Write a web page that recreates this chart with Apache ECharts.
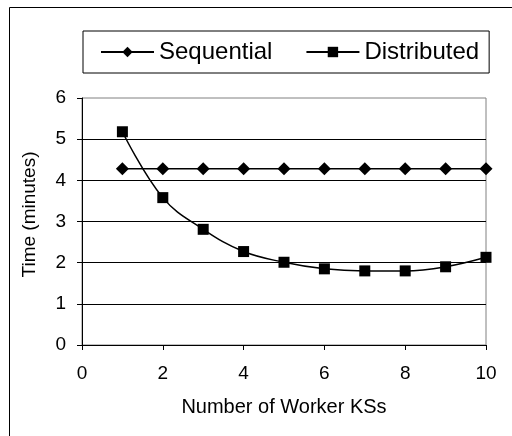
<!DOCTYPE html>
<html>
<head>
<meta charset="utf-8">
<script src="https://cdn.jsdelivr.net/npm/echarts@6/dist/echarts.min.js"></script>
<style>html,body{margin:0;padding:0;background:#fff}#c{width:512px;height:436px}</style>
</head>
<body>
<div id="c"></div>
<script>
var workers = [1, 2, 3, 4, 5, 6, 7, 8, 9, 10];
var sequential = [4.28, 4.28, 4.28, 4.28, 4.28, 4.28, 4.28, 4.28, 4.28, 4.28];
var distributed = [5.18, 3.58, 2.81, 2.27, 2.01, 1.85, 1.80, 1.80, 1.90, 2.13];
var seriesNames = ['Sequential', 'Distributed'];

function pairs(xs, ys) { return xs.map(function (x, i) { return [x, ys[i]]; }); }

var font = '"Liberation Sans", Arial, sans-serif';
var chart = echarts.init(document.getElementById('c'), null, { renderer: 'canvas' });
chart.setOption({
  animation: false,
  backgroundColor: '#fff',
  textStyle: { fontFamily: font, color: '#000' },
  graphic: [{
    type: 'rect', silent: true, z: -10,
    shape: { x: 9.5, y: 7.5, width: 560, height: 480 },
    style: { fill: null, stroke: '#000', lineWidth: 1 }
  }],
  legend: {
    left: 83, top: 31,
    padding: [9, 10, 9, 17],
    borderColor: '#000', borderWidth: 1,
    itemWidth: 53, itemHeight: 13, itemGap: 33,
    textStyle: { fontFamily: font, fontSize: 24, color: '#000' },
    data: seriesNames
  },
  grid: {
    left: 82, right: 26, top: 98, bottom: 91,
    show: true, borderColor: '#808080', borderWidth: 1, backgroundColor: 'transparent'
  },
  xAxis: {
    type: 'value', min: 0, max: 10, interval: 2,
    name: 'Number of Worker KSs', nameLocation: 'middle', nameGap: 52,
    nameTextStyle: { fontFamily: font, fontSize: 20, color: '#000' },
    axisLine: { lineStyle: { color: '#000', width: 1 } },
    axisTick: { show: true, length: 5, lineStyle: { color: '#000' } },
    axisLabel: { fontFamily: font, fontSize: 19, color: '#000', margin: 19 },
    splitLine: { show: false }
  },
  yAxis: {
    type: 'value', min: 0, max: 6, interval: 1,
    name: 'Time (minutes)', nameLocation: 'middle', nameGap: 43,
    nameTextStyle: { fontFamily: font, fontSize: 19, color: '#000', padding: [0, 0, 0, 14] },
    axisLine: { show: true, lineStyle: { color: '#000', width: 1 } },
    axisTick: { show: true, length: 5, lineStyle: { color: '#000' } },
    axisLabel: { fontFamily: font, fontSize: 19, color: '#000', margin: 16 },
    splitLine: { show: true, showMinLine: false, showMaxLine: false, lineStyle: { color: '#000', width: 1 } }
  },
  series: [{
    name: seriesNames[0], type: 'line',
    data: pairs(workers, sequential),
    symbol: 'diamond', symbolSize: 13,
    itemStyle: { color: '#000' },
    lineStyle: { color: '#000', width: 1.5 }
  }, {
    name: seriesNames[1], type: 'line',
    data: pairs(workers, distributed),
    smooth: 0.4,
    symbol: 'rect', symbolSize: 11,
    itemStyle: { color: '#000' },
    lineStyle: { color: '#000', width: 1.5 }
  }]
});
</script>
</body>
</html>
